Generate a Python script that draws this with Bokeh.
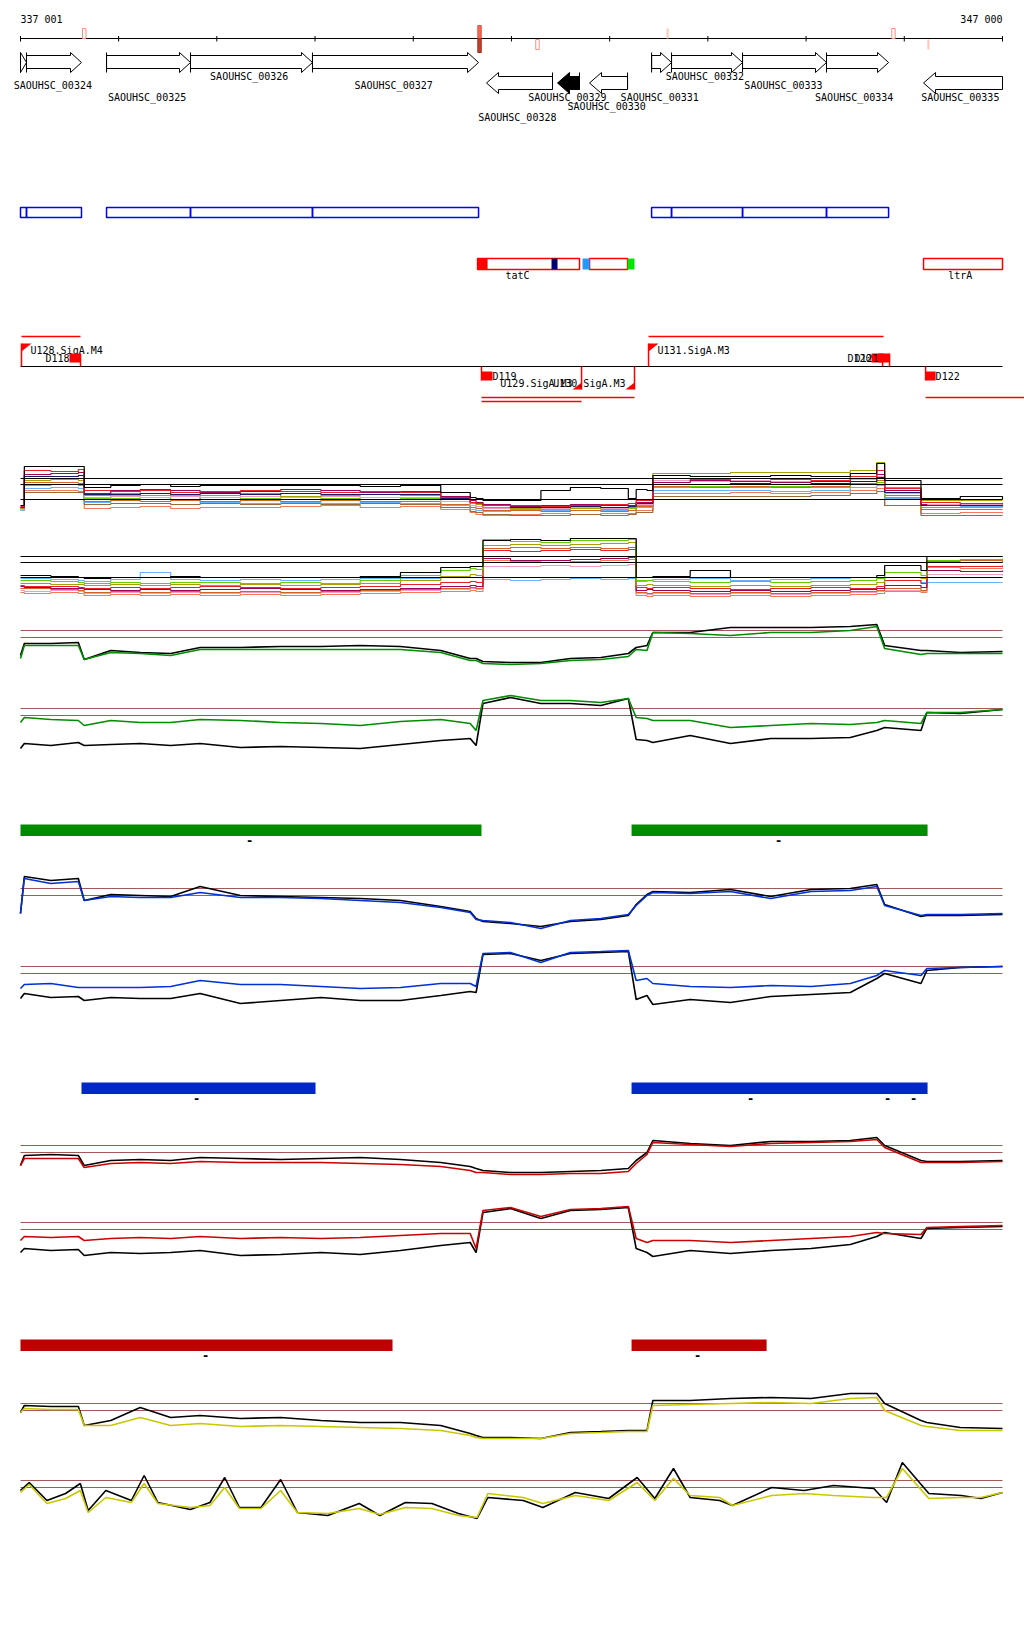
from bokeh.plotting import figure
from bokeh.models import Range1d
from bokeh.embed import file_html
from bokeh.resources import INLINE
from bokeh.core.properties import value

# ---------------------------------------------------------------- data
GENOME_START = 337001
GENOME_END = 347000
RULER_TICKS = [337001, 338000, 339000, 340000, 341000, 342000, 343000,
               344000, 345000, 346000, 347000]
RULER_LABELS = ["337 001", "347 000"]

# genes (forward / reverse strand)
FWD_GENE_START = [337001, 337062, 337877, 338732, 339974, 343427, 343630, 344353, 345208]
FWD_GENE_END = [337062, 337622, 338732, 339974, 341665, 343630, 344353, 345208, 345840]
REV_GENE_START = [341746, 342469, 342795, 346196]
REV_GENE_END = [342418, 342693, 343182, 347000]
REV_GENE_FILLED = [False, True, False, False]

GENE_LABELS = ["SAOUHSC_00324", "SAOUHSC_00325", "SAOUHSC_00326", "SAOUHSC_00327",
               "SAOUHSC_00328", "SAOUHSC_00329", "SAOUHSC_00330", "SAOUHSC_00331",
               "SAOUHSC_00332", "SAOUHSC_00333", "SAOUHSC_00334", "SAOUHSC_00335"]
GENE_LABEL_POS = [337330, 338290, 339330, 340800, 342060, 342570, 342970, 343510,
                  343970, 344770, 345490, 346570]
GENE_LABEL_ROW = [1, 2, 0, 1, 4, 2, 3, 2, 0, 1, 2, 2]

# variant marks on the ruler
VAR_POS = [337650, 341675, 342265, 343590, 345890, 346245]
VAR_SIDE = ["up", "both", "down", "up", "up", "down"]
VAR_FILLED = [False, True, False, True, False, True]

# annotated features (tatC operon / ltrA)
FEAT_BOX_START = [341655, 342795, 346196]
FEAT_BOX_END = [342693, 343182, 347000]
FEAT_FILL_START = [341655, 342408, 342724, 343182]
FEAT_FILL_END = [341757, 342469, 342795, 343253]
FEAT_FILL_COLOR = ["#ff0000", "#000070", "#1e9bff", "#00e600"]
FEAT_LABELS = ["tatC", "ltrA"]
FEAT_LABEL_POS = [342062, 346570]

# promoters, terminators, transcripts
PROM_NAME = ["U128.SigA.M4", "U129.SigA.M3", "U130.SigA.M3", "U131.SigA.M3"]
PROM_POS = [337011, 342714, 343253, 343396]
PROM_STRAND = [1, -1, -1, 1]
TERM_NAME = ["D118", "D119", "D120", "D121", "D122"]
TERM_START = [337500, 341695, 345667, 345738, 346217]
TERM_END = [337612, 341807, 345779, 345850, 346319]
TERM_STRAND = [1, -1, 1, 1, -1]
TX_START = [337011, 343396, 341695, 341695, 346217]
TX_END = [337612, 345789, 343253, 342714, 347300]
TX_LANE = [0, 0, 1, 2, 1]

# condition regions
GREEN_REG_START = [337001, 343223]
GREEN_REG_END = [341695, 346237]
GREEN_DASH = [339333, 344720]
BLUE_REG_START = [337622, 343223]
BLUE_REG_END = [340005, 346237]
BLUE_DASH = [338793, 344435, 345830, 346094]
RED_REG_START = [337001, 343223]
RED_REG_END = [340789, 344598]
RED_DASH = [338885, 343895]

# sampled positions of the signal tracks
GRID = [337001, 337040, 337310, 337590, 337650, 337920, 338220, 338530, 338830, 339240,
        339650, 340060, 340460, 340870, 341280, 341580, 341640, 341710, 341990, 342300,
        342600, 342910, 343190, 343270, 343380, 343440, 343820, 344230, 344640, 345050,
        345450, 345720, 345800, 346170, 346230, 346570, 347000]

# multi-condition panel A (signal relative to lower threshold)
A_BLACK = [-6, 33, 33, 33, 12, 14, 15, 13, 14, 14, 14, 14, 13, 14, 7, 2, 1, -1, -1, 9, 12, 11, 1, 10, 9, 24, 23, 23, 24, 23, 26, 36, 19, 1, 1, 3, 0]
A_RED = [-7, 29, 28, 30, 9, 8, 9, 7, 8, 9, 8, 7, 8, 7, 2, -3, -4, -6, -6, -7, -6, -5, -4, -1, -1, 21, 20, 21, 20, 19, 23, 29, 11, -3, -3, -4, -4]
A_MAGENTA = [-8, 25, 26, 27, 6, 9, 10, 9, 7, 8, 10, 9, 7, 8, 3, -1, -3, -5, -7, -6, -5, -6, -6, -3, -3, 17, 19, 18, 17, 18, 21, 25, 9, -5, -6, -4, -5]
A_NAVY = [-8, 23, 23, 24, 5, 5, 6, 5, 6, 5, 6, 5, 5, 5, 1, -3, -4, -6, -8, -8, -7, -8, -7, -4, -4, 15, 15, 16, 15, 16, 18, 22, 7, -6, -6, -6, -7]
A_OLIVE = [-9, 19, 20, 19, 4, 6, 4, 5, 4, 6, 3, 4, 5, 4, 0, -4, -5, -8, -9, -8, -9, -8, -8, -1, 0, 26, 26, 27, 27, 27, 29, 37, 12, -1, -1, -1, -1]
A_GREEN = [-9, 14, 15, 14, 1, 1, 2, 0, 2, 1, 2, 1, 2, 1, -2, -6, -7, -9, -10, -10, -9, -10, -9, -6, -6, 12, 13, 12, 13, 12, 15, 17, 2, -8, -8, -8, -8]
A_CHOC = [-10, 17, 17, 16, -2, -1, -2, -1, -2, -1, -2, -1, -2, -2, -5, -8, -9, -11, -11, -12, -11, -12, -11, -7, -7, 13, 12, 13, 12, 13, 16, 19, 4, -10, -10, -10, -10]
A_LBLUE = [-11, 11, 12, 11, -3, 4, 9, 4, -3, -4, -3, -4, -3, -4, -6, -10, -11, -12, -11, -11, -11, -11, -11, -8, -8, 9, 9, 9, 8, 9, 12, 14, 1, -8, -8, -7, -7]
A_SALMON = [-11, 9, 9, 8, -9, -8, -7, -9, -8, -8, -7, -6, -8, -7, -10, -13, -15, -16, -15, -14, -15, -14, -14, -11, -11, 6, 6, 7, 6, 7, 9, 11, -6, -14, -14, -13, -14]
A_BROWN = [-9, 7, 7, 7, -5, -4, -4, -5, -4, -5, -4, -5, -4, -5, -8, -12, -13, -15, -16, -16, -15, -16, -15, -13, -13, 3, 3, 3, 3, 4, 6, 8, -6, -16, -16, -16, -16]
A_PINK = [-10, 21, 21, 21, 2, 3, 2, 3, 2, 3, 2, 3, 2, 2, -2, -6, -7, -9, -8, -9, -8, -9, -8, -5, -5, 19, 18, 19, 18, 18, 20, 23, 6, -5, -5, -5, -5]

# multi-condition panel B
B_BLACK = [2, 2, 1, 0, -1, 0, 0, 1, 0, 0, 0, 0, 1, 5, 10, 11, 11, 37, 38, 37, 39, 39, 39, 0, 0, 1, 7, 0, 0, 0, 0, 2, 12, 7, 21, 21, 21]
B_GREEN = [-3, -3, -4, -5, -6, -5, -6, -5, -5, -6, -5, -6, -3, 2, 7, 9, 8, 38, 36, 35, 37, 37, 38, -3, -3, -4, -5, -4, -5, -4, -3, -1, 5, 2, 17, 18, 19]
B_OLIVE = [-6, -6, -7, -7, -8, -7, -8, -7, -8, -7, -8, -7, -6, -3, 1, 3, 2, 32, 33, 32, 33, 34, 35, -8, -7, -8, -9, -8, -9, -8, -7, -5, 0, -1, 15, 15, 16]
B_RED = [-8, -9, -9, -10, -11, -10, -11, -10, -9, -10, -11, -10, -9, -7, -5, -4, -5, 27, 26, 27, 28, 27, 28, -10, -11, -10, -11, -12, -11, -10, -11, -9, -3, -6, 11, 11, 12]
B_MAGENTA = [-9, -10, -11, -11, -12, -13, -12, -13, -12, -11, -12, -13, -12, -11, -9, -8, -9, 19, 17, 17, 18, 19, 20, -13, -12, -13, -14, -13, -14, -13, -12, -11, -8, -10, 7, 6, 7]
B_CHOC = [-11, -11, -12, -13, -15, -14, -15, -14, -15, -14, -15, -14, -13, -12, -11, -10, -11, 29, 30, 29, 30, 29, 30, -15, -16, -15, -16, -15, -16, -15, -14, -13, -11, -13, 16, 17, 15]
B_LBLUE = [-1, -1, -2, -3, -4, -2, 5, -2, -3, -2, -3, -2, -1, -1, 0, 0, 0, -2, -3, -2, -1, -2, -1, -4, -3, -2, -1, -3, -2, -1, 0, 0, -3, -5, -5, -5, -5]
B_PINK = [-13, -14, -13, -14, -16, -15, -16, -15, -16, -15, -16, -15, -14, -13, -12, -11, -12, 11, 11, 12, 11, 12, 13, -16, -17, -16, -17, -16, -17, -16, -15, -14, -13, -14, 3, 3, 2]
B_SALMON = [-15, -16, -15, -16, -18, -17, -18, -17, -18, -17, -18, -17, -16, -15, -14, -13, -14, 17, 16, 17, 16, 17, 18, -18, -19, -18, -19, -18, -19, -18, -17, -16, -14, -15, 10, 9, 10]

# paired condition tracks
G1_BLACK = [-18, -6, -6, -5, -22, -13, -15, -16, -10, -10, -9, -9, -8, -9, -13, -21, -21, -24, -25, -25, -21, -20, -16, -10, -8, 5, 5, 10, 10, 10, 11, 13, -8, -13, -13, -15, -14]
G1_GREEN = [-21, -8, -8, -8, -22, -15, -16, -18, -12, -12, -12, -12, -12, -12, -15, -23, -23, -26, -27, -26, -23, -22, -19, -12, -13, 5, 4, 2, 5, 5, 7, 11, -11, -17, -16, -16, -16]
G2_BLACK = [-33, -28, -30, -27, -30, -29, -28, -30, -28, -32, -31, -32, -33, -29, -25, -23, -30, 12, 18, 12, 12, 10, 17, -24, -25, -27, -20, -28, -23, -23, -22, -15, -12, -15, 3, 2, 6]
G2_GREEN = [-7, -2, -4, -5, -10, -5, -7, -7, -4, -5, -7, -8, -10, -6, -4, -8, -15, 15, 20, 15, 15, 13, 17, -2, -3, -5, -5, -12, -10, -8, -9, -7, -5, -8, 3, 3, 6]
B1_BLACK = [-18, 19, 15, 17, -5, 1, 0, -1, 9, 0, -1, -2, -3, -5, -11, -16, -23, -26, -28, -31, -26, -24, -20, -9, 1, 4, 3, 6, -1, 6, 7, 11, -9, -21, -20, -20, -19]
B1_BLUE = [-18, 17, 12, 14, -5, -1, -2, -2, 3, -2, -2, -3, -5, -7, -12, -17, -24, -25, -27, -33, -25, -23, -19, -10, 0, 3, 2, 4, -3, 4, 5, 9, -10, -20, -19, -19, -18]
B2_BLACK = [-25, -20, -24, -23, -27, -24, -25, -25, -20, -30, -27, -24, -27, -27, -22, -18, -19, 19, 20, 13, 20, 21, 22, -26, -22, -31, -26, -29, -23, -21, -19, -5, 0, -10, 3, 6, 7]
B2_BLUE = [-15, -11, -10, -14, -14, -14, -14, -13, -7, -11, -11, -13, -15, -14, -10, -10, -13, 20, 21, 11, 21, 22, 23, -7, -5, -10, -13, -14, -12, -13, -10, -2, 3, -2, 5, 6, 7]
R1_BLACK = [-13, -3, -2, -3, -13, -8, -7, -8, -5, -6, -7, -6, -5, -7, -10, -14, -16, -18, -20, -20, -19, -18, -16, -8, 0, 12, 9, 7, 11, 11, 12, 15, 7, -8, -9, -9, -8]
R1_RED = [-13, -6, -6, -6, -15, -11, -10, -11, -9, -10, -10, -10, -11, -12, -14, -18, -20, -20, -22, -22, -21, -21, -19, -11, -2, 10, 8, 6, 9, 10, 11, 13, 5, -10, -10, -10, -9]
R2_BLACK = [-23, -19, -21, -20, -26, -23, -24, -23, -21, -26, -25, -23, -25, -21, -16, -13, -23, 17, 21, 11, 19, 20, 22, -19, -23, -27, -21, -24, -21, -19, -15, -7, -3, -9, 1, 2, 3]
R2_RED = [-11, -7, -8, -7, -11, -9, -8, -9, -7, -9, -8, -9, -8, -6, -4, -4, -19, 19, 22, 13, 20, 21, 23, -9, -13, -11, -11, -13, -11, -9, -7, -3, -4, -5, 2, 3, 4]
Y1_BLACK = [-2, 5, 4, 4, -15, -10, 3, -7, -5, -8, -7, -10, -12, -12, -15, -23, -25, -27, -27, -28, -22, -21, -20, -20, -20, 10, 10, 12, 13, 12, 17, 17, 7, -10, -12, -17, -18]
Y1_YELLOW = [-2, 2, 1, 1, -15, -15, -7, -15, -13, -16, -15, -16, -17, -18, -20, -25, -27, -28, -28, -28, -23, -22, -21, -21, -21, 5, 6, 7, 8, 7, 12, 13, 0, -15, -16, -20, -20]

POS_Y2 = [337000, 337090, 337270, 337460, 337610, 337690, 337870, 338130, 338260, 338400,
          338730, 338930, 339080, 339230, 339450, 339650, 339820, 340130, 340450, 340660,
          340920, 341190, 341460, 341650, 341760, 342120, 342320, 342650, 342990, 343280,
          343460, 343650, 343820, 344120, 344250, 344650, 344980, 345280, 345690, 345820,
          345980, 346250, 346580, 346780, 347000]
Y2_BLACK = [-3, 5, -13, -6, 4, -23, -3, -13, 12, -15, -22, -15, 10, -20, -20, 8, -25, -28, -16, -28, -15, -16, -26, -31, -10, -13, -20, -5, -11, 10, -11, 19, -10, -13, -18, 0, -3, 2, -1, -15, 25, -6, -8, -11, -5]
Y2_YELLOW = [-5, 3, -16, -11, -3, -25, -10, -15, 4, -16, -20, -18, 0, -21, -21, -3, -25, -26, -21, -27, -20, -21, -28, -30, -6, -10, -16, -8, -13, 5, -13, 9, -8, -10, -18, -8, -6, -8, -10, -10, 19, -11, -10, -10, -5]

# ---------------------------------------------------------------- layout / style
W, H = 1024, 1600
PX_LEFT, PX_RIGHT = 20, 1002
BP_PER_PX = (GENOME_END - GENOME_START) / (PX_RIGHT - PX_LEFT)
X0 = GENOME_START - PX_LEFT * BP_PER_PX
X1 = X0 + W * BP_PER_PX
FONT = "DejaVu Sans Mono"
FS = "10px"


def bp(n):
    return n * BP_PER_PX


p = figure(width=W, height=H, x_range=Range1d(X0, X1), y_range=Range1d(H, 0),
           output_backend="svg", toolbar_location=None, min_border=0,
           x_axis_type=None, y_axis_type=None)
p.outline_line_color = None
p.background_fill_color = "white"
p.border_fill_color = "white"


def label(xs, ys, texts, align="left", color="black", size=FS, style="normal"):
    p.text(x=xs, y=ys, text=texts, text_align=align, text_baseline="middle",
           text_font=value(FONT), text_font_size=size, text_color=color,
           text_font_style=style)


# ruler
p.segment(x0=[GENOME_START], x1=[GENOME_END], y0=[38], y1=[38], line_color="black", line_width=1)
p.segment(x0=RULER_TICKS, x1=RULER_TICKS, y0=[35.5] * len(RULER_TICKS),
          y1=[41] * len(RULER_TICKS), line_color="black", line_width=1)
label([GENOME_START], [19], [RULER_LABELS[0]], "left")
label([GENOME_END], [19], [RULER_LABELS[1]], "right")

for pos, side, filled in zip(VAR_POS, VAR_SIDE, VAR_FILLED):
    if side == "both":
        p.quad(left=[pos - bp(1.7)], right=[pos + bp(1.7)], top=[25], bottom=[38],
               fill_color="#f46a55", line_color="#e0503c", line_width=1)
        p.quad(left=[pos - bp(1.7)], right=[pos + bp(1.7)], top=[38], bottom=[52],
               fill_color="#c8402c", line_color="#9c2a1a", line_width=1)
        continue
    top, bot = (28, 38) if side == "up" else (39, 49)
    if filled:
        p.quad(left=[pos - bp(1.0)], right=[pos + bp(1.0)], top=[top], bottom=[bot],
               fill_color="#ffc6b6", line_color=None)
    else:
        p.quad(left=[pos - bp(1.7)], right=[pos + bp(1.7)], top=[top], bottom=[bot],
               fill_color=None, line_color="#f3907c", line_width=1)

# gene arrows
fx, fy = [], []
for s, e in zip(FWD_GENE_START, FWD_GENE_END):
    h = min(bp(11), e - s)
    fx.append([s, e - h, e - h, e, e - h, e - h, s])
    fy.append([55, 55, 52, 62, 72, 68, 68])
p.patches(fx, fy, fill_color="white", line_color="black", line_width=1)
p.segment(x0=FWD_GENE_START, x1=FWD_GENE_START, y0=[52] * len(FWD_GENE_START),
          y1=[72] * len(FWD_GENE_START), line_color="black", line_width=1)

for s, e, filled in zip(REV_GENE_START, REV_GENE_END, REV_GENE_FILLED):
    h = min(bp(12), e - s)
    p.patch([e, s + h, s + h, s, s + h, s + h, e], [76, 76, 72, 82.5, 93, 89, 89],
            fill_color="black" if filled else "white", line_color="black", line_width=1)
    if e < GENOME_END:
        p.segment(x0=[e], x1=[e], y0=[72], y1=[89], line_color="black", line_width=1)

ROW_Y = [76, 85, 97, 106, 117]
label(GENE_LABEL_POS, [ROW_Y[r] for r in GENE_LABEL_ROW], GENE_LABELS, "center")

# CDS boxes
p.quad(left=FWD_GENE_START, right=FWD_GENE_END, top=[207] * len(FWD_GENE_START),
       bottom=[217] * len(FWD_GENE_START), fill_color=None, line_color="#0000ff", line_width=1.5)

# features
p.quad(left=FEAT_BOX_START, right=FEAT_BOX_END, top=[258] * 3, bottom=[269] * 3,
       fill_color=None, line_color="#ff0000", line_width=1.5)
p.quad(left=FEAT_FILL_START, right=FEAT_FILL_END, top=[258] * 4, bottom=[269] * 4,
       fill_color=FEAT_FILL_COLOR, line_color=None)
label(FEAT_LABEL_POS, [275, 275], FEAT_LABELS, "center")

# promoter / terminator track
p.segment(x0=[GENOME_START], x1=[GENOME_END], y0=[366], y1=[366], line_color="black", line_width=1.2)
LANE_Y = [336, 397, 401]
p.segment(x0=TX_START, x1=TX_END, y0=[LANE_Y[l] for l in TX_LANE],
          y1=[LANE_Y[l] for l in TX_LANE], line_color="#ff0000", line_width=1.5)
for name, pos, strand in zip(PROM_NAME, PROM_POS, PROM_STRAND):
    if strand > 0:
        p.segment(x0=[pos], x1=[pos], y0=[343], y1=[366], line_color="#ff0000", line_width=1.5)
        p.patch([pos, pos + bp(10), pos], [343, 343, 351], fill_color="#ff0000", line_color=None)
        label([pos + bp(9)], [350], [name], "left")
    else:
        p.segment(x0=[pos], x1=[pos], y0=[366], y1=[389], line_color="#ff0000", line_width=1.5)
        p.patch([pos, pos - bp(9), pos], [389, 389, 382], fill_color="#ff0000", line_color=None)
        label([pos - bp(9)], [383], [name], "right")
for name, s, e, strand in zip(TERM_NAME, TERM_START, TERM_END, TERM_STRAND):
    if strand > 0:
        p.quad(left=[s], right=[e], top=[353], bottom=[362], fill_color="#ff0000", line_color=None)
        p.segment(x0=[e], x1=[e], y0=[353], y1=[366], line_color="#ff0000", line_width=1.5)
        label([s], [358], [name], "right")
    else:
        p.quad(left=[s], right=[e], top=[371], bottom=[380], fill_color="#ff0000", line_color=None)
        p.segment(x0=[s], x1=[s], y0=[366], y1=[380], line_color="#ff0000", line_width=1.5)
        label([e], [376], [name], "left")

# signal panels
PANEL_REF_Y = {"A": 499, "B": 577, "g1": 637, "g2": 715, "b1": 895, "b2": 973,
               "r1": 1152, "r2": 1229, "y1": 1410, "y2": 1487}
p.extra_y_ranges = {k: Range1d(start=ref - H, end=ref) for k, ref in PANEL_REF_Y.items()}

MULTI_THRESH = [0, 15, 21]
PAIR_THRESH = [0, 7]

A_SERIES = [(A_SALMON, "#f07a5a"), (A_BROWN, "#9a6a3a"), (A_LBLUE, "#66b2ff"), (A_CHOC, "#d2642a"),
            (A_GREEN, "#66cc00"), (A_PINK, "#f09cc4"), (A_OLIVE, "#a8a000"), (A_NAVY, "#1a1a66"),
            (A_MAGENTA, "#a0005a"), (A_RED, "#e8202a"), (A_BLACK, "#000000")]
B_SERIES = [(B_SALMON, "#f07a5a"), (B_PINK, "#f09cc4"), (B_LBLUE, "#66b2ff"), (B_CHOC, "#d2642a"),
            (B_MAGENTA, "#a0005a"), (B_RED, "#e8202a"), (B_OLIVE, "#a8a000"), (B_GREEN, "#66cc00"),
            (B_BLACK, "#000000")]

for key, series in (("A", A_SERIES), ("B", B_SERIES)):
    for vals, col in series:
        p.step(x=GRID, y=vals, mode="after", line_color=col, line_width=1.2, y_range_name=key)
    n = len(MULTI_THRESH)
    p.segment(x0=[GENOME_START] * n, x1=[GENOME_END] * n, y0=MULTI_THRESH, y1=MULTI_THRESH,
              line_color="black", line_width=1.2, y_range_name=key)

PAIRS = [("g1", GRID, G1_BLACK, G1_GREEN, "#008c00"), ("g2", GRID, G2_BLACK, G2_GREEN, "#008c00"),
         ("b1", GRID, B1_BLACK, B1_BLUE, "#0030d8"), ("b2", GRID, B2_BLACK, B2_BLUE, "#0030d8"),
         ("r1", GRID, R1_BLACK, R1_RED, "#cc0000"), ("r2", GRID, R2_BLACK, R2_RED, "#cc0000"),
         ("y1", GRID, Y1_BLACK, Y1_YELLOW, "#c8c800"), ("y2", POS_Y2, Y2_BLACK, Y2_YELLOW, "#c8c800")]
for key, xs, blk, col_vals, col in PAIRS:
    n = len(PAIR_THRESH)
    p.segment(x0=[GENOME_START] * n, x1=[GENOME_END] * n, y0=PAIR_THRESH, y1=PAIR_THRESH,
              line_color="#a05a5a", line_width=1.2, y_range_name=key)
    p.line(x=xs, y=blk, line_color="black", line_width=1.6, y_range_name=key)
    p.line(x=xs, y=col_vals, line_color=col, line_width=1.6, y_range_name=key)

# region bars
for starts, ends, dashes, col, top in ((GREEN_REG_START, GREEN_REG_END, GREEN_DASH, "#008c00", 824),
                                       (BLUE_REG_START, BLUE_REG_END, BLUE_DASH, "#0028c8", 1082),
                                       (RED_REG_START, RED_REG_END, RED_DASH, "#be0000", 1339)):
    p.quad(left=starts, right=ends, top=[top] * len(starts), bottom=[top + 11.5] * len(starts),
           fill_color=col, line_color=None)
    label(dashes, [top + 16] * len(dashes), ["-"] * len(dashes), "center", size="12px", style="bold")

open("out.html", "w").write(file_html(p, INLINE, title="genome browser"))
